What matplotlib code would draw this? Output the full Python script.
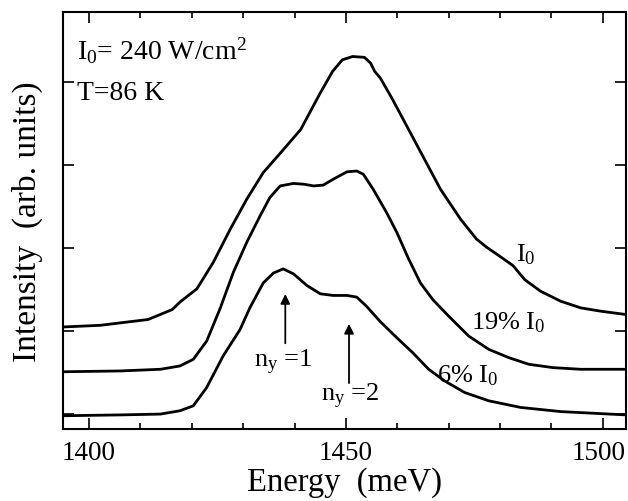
import matplotlib
matplotlib.use("Agg")
import matplotlib.pyplot as plt
from matplotlib.transforms import ScaledTranslation

plt.rcParams['font.family'] = ['Liberation Serif', 'DejaVu Serif']
plt.rcParams['mathtext.fontset'] = 'custom'
plt.rcParams['mathtext.rm'] = 'Liberation Serif'
plt.rcParams['mathtext.it'] = 'Liberation Serif:italic'

# Energy (meV) and intensity (arb. units, offset)
e_top = [1395.0, 1402.2, 1411.5, 1416.2, 1417.7, 1421.0, 1424.2, 1427.5, 1430.7, 1433.9,
         1437.3, 1441.2, 1445.0, 1447.4, 1449.3, 1451.3, 1453.6, 1454.8, 1455.6, 1456.7,
         1459.1, 1462.2, 1465.3, 1468.4, 1472.3, 1475.4, 1477.4, 1479.3, 1482.5, 1484.8,
         1487.9, 1491.8, 1495.7, 1499.6, 1504.5]
i_top = [1.05, 1.07, 1.14, 1.26, 1.35, 1.51, 1.83, 2.23, 2.59, 2.91,
         3.15, 3.43, 3.87, 4.13, 4.27, 4.31, 4.30, 4.23, 4.13, 4.05,
         3.79, 3.43, 3.07, 2.71, 2.35, 2.11, 2.01, 1.93, 1.79, 1.62,
         1.48, 1.36, 1.28, 1.24, 1.20]

e_mid = [1395.0, 1406.1, 1413.9, 1417.7, 1420.3, 1422.9, 1425.5, 1428.1, 1430.7, 1433.3,
         1435.2, 1437.2, 1439.8, 1441.9, 1443.7, 1445.6, 1447.5, 1450.2, 1452.1, 1453.4,
         1455.3, 1457.9, 1459.9, 1462.2, 1464.5, 1466.9, 1470.0, 1473.9, 1477.8, 1481.7,
         1485.6, 1490.3, 1495.7, 1504.5]
i_mid = [0.51, 0.52, 0.54, 0.58, 0.66, 0.88, 1.27, 1.71, 2.07, 2.39,
         2.61, 2.75, 2.78, 2.77, 2.75, 2.76, 2.83, 2.92, 2.93, 2.89,
         2.71, 2.43, 2.19, 1.87, 1.58, 1.38, 1.18, 0.94, 0.78, 0.68,
         0.60, 0.56, 0.54, 0.54]

e_low = [1395.0, 1406.1, 1413.9, 1417.7, 1420.3, 1422.9, 1426.1, 1429.4, 1431.3, 1432.6,
         1433.9, 1435.9, 1437.8, 1439.8, 1442.4, 1445.0, 1447.5, 1450.2, 1452.1, 1454.0,
         1456.6, 1459.9, 1463.0, 1466.1, 1469.2, 1473.1, 1477.8, 1484.0, 1491.8, 1504.5]
i_low = [-0.02, -0.01, 0.00, 0.04, 0.10, 0.32, 0.70, 1.02, 1.28, 1.43,
         1.58, 1.70, 1.75, 1.69, 1.55, 1.45, 1.43, 1.43, 1.41, 1.30,
         1.12, 0.92, 0.74, 0.54, 0.40, 0.26, 0.16, 0.08, 0.03, -0.01]

x_major = [1400, 1450, 1500]
x_labels = ['1400', '1450', '1500']
x_minor = [1410, 1420, 1430, 1440, 1460, 1470, 1480, 1490]
y_major = [0, 1, 2, 3, 4]

fig = plt.figure(figsize=(6.28, 5.02), dpi=100)
ax = fig.add_axes([0.1008, 0.1434, 0.8960, 0.8313])

for e, i in [(e_top, i_top), (e_mid, i_mid), (e_low, i_low)]:
    ax.plot(e, i, color='black', lw=2.0, solid_joinstyle='round', solid_capstyle='butt')

ax.set_xlim(1395.0, 1504.5)
ax.set_ylim(-0.18, 4.85)
ax.set_xticks(x_major)
ax.set_xticklabels(x_labels)
ax.set_xticks(x_minor, minor=True)
ax.set_yticks(y_major)
ax.set_yticklabels([])
ax.tick_params(which='both', direction='in', top=True, right=True, width=1.2)
ax.tick_params(which='major', length=8, labelsize=19.5, pad=8)
ax.tick_params(which='minor', length=4)
for s in ax.spines.values():
    s.set_linewidth(1.5)

last = ax.get_xticklabels()[-1]
last.set_transform(last.get_transform() + ScaledTranslation(-3 / 72, 0, fig.dpi_scale_trans))

ax.set_xlabel('Energy  (meV)', fontsize=23.5, va='center')
ax.xaxis.set_label_coords(0.5, -0.125)
ax.set_ylabel('Intensity  (arb. units)', fontsize=24, va='center')
ax.yaxis.set_label_coords(-0.064, 0.5)

ax.text(1397.6, 4.39, r'I$_0$= 240 W/cm$^2$', fontsize=20, va='center', ha='left')
ax.text(1397.6, 3.88, 'T=86 K', fontsize=20, va='center', ha='left')

ax.text(1483.0, 1.93, r'I$_0$', fontsize=19, va='center', ha='left')
ax.text(1474.3, 1.11, r'19% I$_0$', fontsize=19, va='center', ha='left')
ax.text(1467.8, 0.48, r'6% I$_0$', fontsize=19, va='center', ha='left')

ax.annotate('', xy=(1438.2, 1.48), xytext=(1438.2, 0.82),
            arrowprops=dict(arrowstyle='-|>', color='black', lw=1.3, mutation_scale=14))
ax.annotate('', xy=(1450.6, 1.12), xytext=(1450.6, 0.34),
            arrowprops=dict(arrowstyle='-|>', color='black', lw=1.3, mutation_scale=14))
ax.text(1437.8, 0.63, r'n$_{\rm y}$ =1', fontsize=19, va='center', ha='center')
ax.text(1450.8, 0.22, r'n$_{\rm y}$ =2', fontsize=19, va='center', ha='center')

fig.savefig('out.png', dpi=100)
